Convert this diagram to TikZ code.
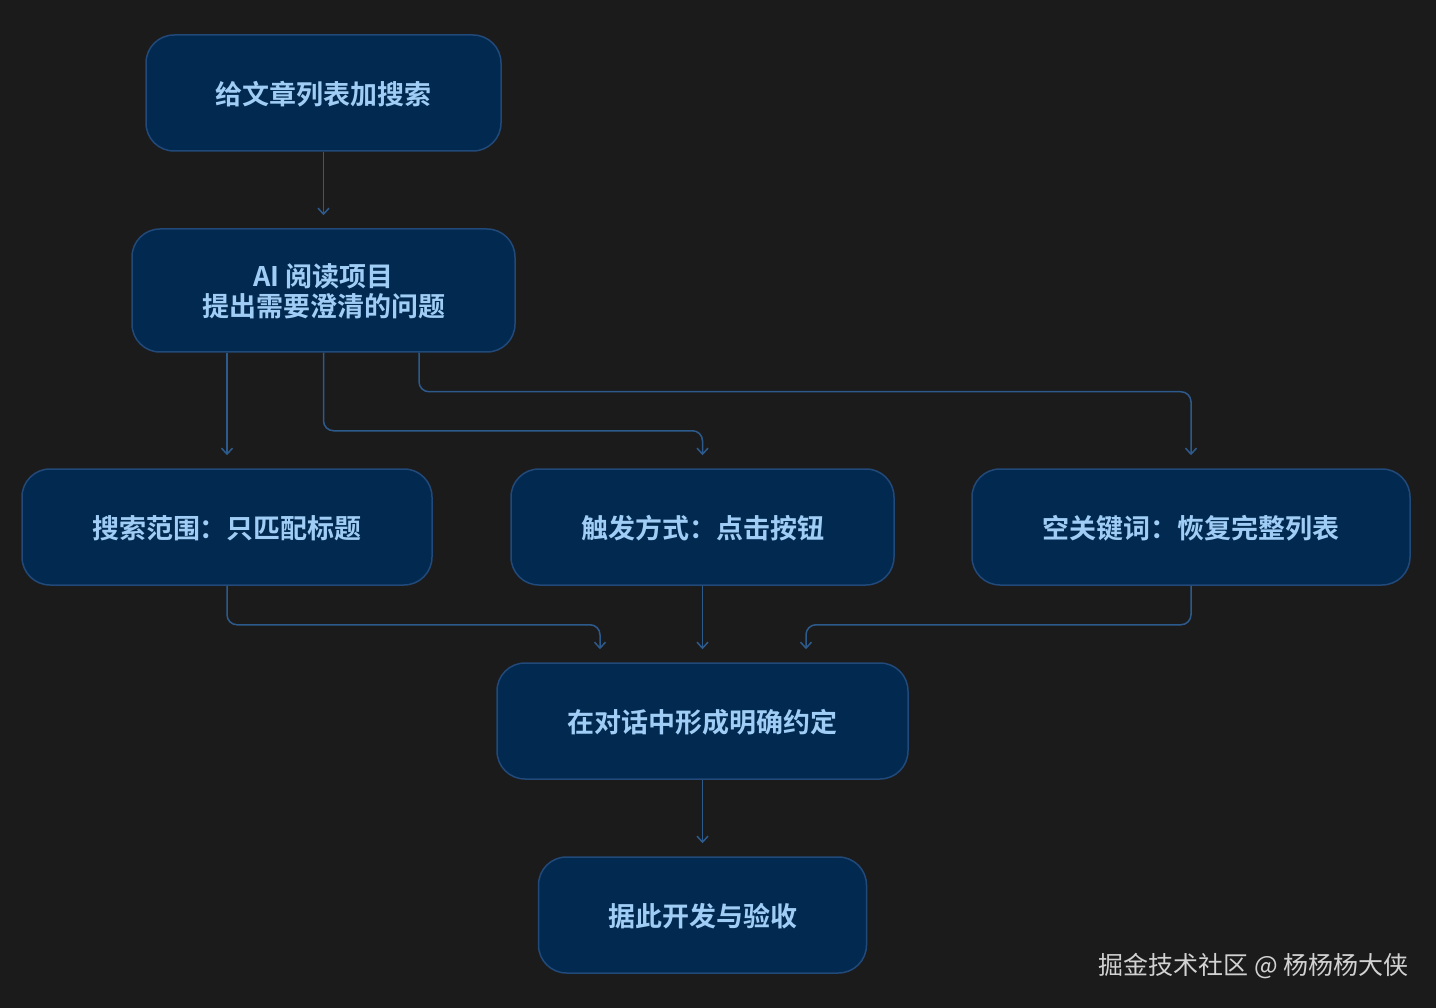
\documentclass[tikz,border=0pt]{standalone}
\usepackage{fontspec}
\setmainfont{Noto Sans CJK SC}[BoldFont={Noto Sans CJK SC Bold}]
\usetikzlibrary{arrows.meta,calc}
\definecolor{bg}{HTML}{1B1B1B}
\definecolor{nodefill}{HTML}{02294F}
\definecolor{nodeline}{HTML}{21497A}
\definecolor{edgecol}{HTML}{2D5A8C}
\definecolor{txt}{HTML}{A0CDF5}
\definecolor{wm}{HTML}{D2D2D2}
\begin{document}
\begin{tikzpicture}[x=1pt,y=-1pt,
  box/.style={draw=nodeline,line width=1.5pt,fill=nodefill,rounded corners=28pt,
    text=txt,font=\fontsize{27}{31}\selectfont\bfseries,align=center,inner sep=0pt,
    text depth=0pt},
  conn/.style={draw=edgecol,line width=1.5pt,rounded corners=10pt,
    -{Straight Barb[length=6pt,width=11pt,line width=1.5pt]},shorten >=13pt}]
\fill[bg] (0,0) rectangle (1436,1008);
\useasboundingbox (0,0) rectangle (1436,1008);
\node[box,minimum width=355pt,minimum height=116pt] (n1) at (323.5,93) {给文章列表加搜索};
\node[box,minimum width=383pt,minimum height=123pt] (n2) at (323.5,290.5) {AI 阅读项目\\[-1pt]提出需要澄清的问题};
\node[box,minimum width=410pt,minimum height=116pt] (n3) at (227,527) {搜索范围：只匹配标题};
\node[box,minimum width=383pt,minimum height=116pt] (n4) at (702.5,527) {触发方式：点击按钮};
\node[box,minimum width=438pt,minimum height=116pt] (n5) at (1191,527) {空关键词：恢复完整列表};
\node[box,minimum width=411pt,minimum height=116pt] (n6) at (702.5,721) {在对话中形成明确约定};
\node[box,minimum width=328pt,minimum height=116pt] (n7) at (702.5,915) {据此开发与验收};
\draw[conn] (n1.south) -- (n2.north);
\draw[conn] (n3.north |- n2.south) -- (n3.north);
\draw[conn] (n2.south) -- ++(0,78) -| (n4.north);
\draw[conn] ([xshift=95.5pt]n2.south) -- ++(0,39) -| (n5.north);
\draw[conn] (n3.south) -- ++(0,39) -| ([xshift=-102.5pt]n6.north);
\draw[conn] (n4.south) -- (n6.north);
\draw[conn] (n5.south) -- ++(0,39) -| ([xshift=103.5pt]n6.north);
\draw[conn] (n6.south) -- (n7.north);
\node[text=wm,font=\fontsize{25}{29}\selectfont,anchor=east,inner sep=0pt] (wmk) at (1409,966) {掘金技术社区 @ 杨杨杨大侠};
\end{tikzpicture}
\end{document}
